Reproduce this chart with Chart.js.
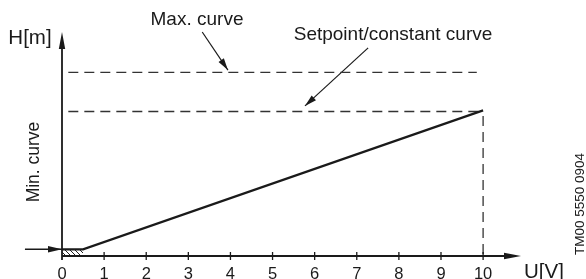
<!DOCTYPE html>
<html>
<head>
<meta charset="utf-8">
<script src="https://cdn.jsdelivr.net/npm/chart.js@4.4.1/dist/chart.umd.min.js"></script>
<style>
  html, body { margin: 0; padding: 0; background: #fff; }
  #wrap { width: 586px; height: 279px; position: relative; }
</style>
</head>
<body>
<div id="wrap"><canvas id="c" width="586" height="279"></canvas></div>
<script>
// ---- data (U in volts, H in relative head units) ----
const xTicks = [0, 1, 2, 3, 4, 5, 6, 7, 8, 9, 10];
const curveU = [0, 0.5, 10];
const curveH = [0.3, 0.3, 6.5];
const setpointU = [0.15, 10];
const setpointH = [6.45, 6.45];
const maxU = [0.15, 9.85];
const maxH = [8.2, 8.2];
const limitU = [10, 10];
const limitH = [6.25, 0];
const hatchU = [0, 0.5];
const hatchH = [0.3, 0.3];
const maxArrowU = [3.33, 3.94];
const maxArrowH = [10.0, 8.3];
const spArrowU = [7.27, 5.77];
const spArrowH = [9.29, 6.7];
const minArrowU = [-0.88, 0];
const minArrowH = [0.3, 0.3];
const labels = ['Max. curve', 'Setpoint/constant curve', 'Min. curve', 'H[m]', 'U[V]', 'TM00 5550 0904'];

const pts = (xs, ys) => xs.map((x, i) => ({ x: x, y: ys[i] }));

// hatch pattern
const pc = document.createElement('canvas');
pc.width = 5; pc.height = 5;
const pctx = pc.getContext('2d');
pctx.strokeStyle = '#222';
pctx.lineWidth = 1;
pctx.beginPath();
pctx.moveTo(-1, -1); pctx.lineTo(6, 6);
pctx.moveTo(-1, 4); pctx.lineTo(1, 6);
pctx.moveTo(4, -1); pctx.lineTo(6, 1);
pctx.stroke();
const hatch = document.getElementById('c').getContext('2d').createPattern(pc, 'repeat');

const FONT = '"Liberation Sans", Arial, Helvetica, sans-serif';
const INK = '#1a1a1a';

function arrowHead(ctx, x1, y1, x2, y2, len, half) {
  const a = Math.atan2(y2 - y1, x2 - x1);
  ctx.beginPath();
  ctx.moveTo(x2, y2);
  ctx.lineTo(x2 - len * Math.cos(a) + half * Math.sin(a), y2 - len * Math.sin(a) - half * Math.cos(a));
  ctx.lineTo(x2 - len * Math.cos(a) - half * Math.sin(a), y2 - len * Math.sin(a) + half * Math.cos(a));
  ctx.closePath();
  ctx.fill();
}

const decor = {
  id: 'decor',
  afterDatasetsDraw(chart) {
    const ctx = chart.ctx;
    const xs = chart.scales.x, ys = chart.scales.y;
    const X = v => xs.getPixelForValue(v), Y = v => ys.getPixelForValue(v);
    ctx.save();
    ctx.strokeStyle = INK; ctx.fillStyle = INK;
    ctx.lineWidth = 1.8;
    const x0 = X(0), y0 = Y(0);
    // axes
    ctx.beginPath();
    ctx.moveTo(x0, y0 + 4); ctx.lineTo(x0, Y(ys.max) + 10);
    ctx.moveTo(x0, y0); ctx.lineTo(X(xs.max) - 12, y0);
    ctx.stroke();
    arrowHead(ctx, x0, y0, x0, Y(ys.max), 17, 3.2);
    arrowHead(ctx, x0, y0, X(xs.max), y0, 17, 3.2);
    // ticks
    ctx.lineWidth = 1.3;
    ctx.beginPath();
    xTicks.forEach(t => { if (t > 0) { const px = X(t); ctx.moveTo(px, y0 - 4); ctx.lineTo(px, y0 + 4); } });
    ctx.stroke();
    // tick labels
    ctx.font = '16.5px ' + FONT;
    ctx.textAlign = 'center'; ctx.textBaseline = 'middle';
    xTicks.forEach(t => ctx.fillText(String(t), X(t), y0 + 18));
    // annotation arrowheads
    arrowHead(ctx, X(maxArrowU[0]), Y(maxArrowH[0]), X(maxArrowU[1]), Y(maxArrowH[1]), 12, 3.2);
    arrowHead(ctx, X(spArrowU[0]), Y(spArrowH[0]), X(spArrowU[1]), Y(spArrowH[1]), 12, 3.2);
    arrowHead(ctx, X(minArrowU[0]), Y(minArrowH[0]), X(minArrowU[1]), Y(minArrowH[1]), 14, 3.2);
    // texts
    ctx.font = '19px ' + FONT;
    ctx.fillText(labels[0], 197, 20);
    ctx.fillText(labels[1], 393, 35);
    ctx.font = '20.5px ' + FONT;
    ctx.fillText(labels[3], 30, 38);
    ctx.fillText(labels[4], 544, 272);
    ctx.save();
    ctx.font = '17.5px ' + FONT;
    ctx.translate(34, 162); ctx.rotate(-Math.PI / 2);
    ctx.fillText(labels[2], 0, 0);
    ctx.restore();
    ctx.save();
    ctx.font = '13.5px ' + FONT;
    ctx.translate(580, 204); ctx.rotate(-Math.PI / 2);
    ctx.fillText(labels[5], 0, 0);
    ctx.restore();
    ctx.restore();
  }
};

const solid = { showLine: true, pointRadius: 0, borderColor: INK, fill: false, tension: 0 };
const dashed = { showLine: true, pointRadius: 0, borderColor: '#333', borderWidth: 1.3, borderDash: [10, 6], fill: false };

new Chart(document.getElementById('c'), {
  type: 'scatter',
  data: {
    datasets: [
      Object.assign({}, solid, { data: pts(hatchU, hatchH), borderWidth: 0, fill: 'origin', backgroundColor: hatch }),
      Object.assign({}, solid, { data: pts(curveU, curveH), borderWidth: 2.2 }),
      Object.assign({}, dashed, { data: pts(setpointU, setpointH) }),
      Object.assign({}, dashed, { data: pts(maxU, maxH) }),
      Object.assign({}, dashed, { data: pts(limitU, limitH) }),
      Object.assign({}, solid, { data: pts(maxArrowU, maxArrowH), borderWidth: 1.2 }),
      Object.assign({}, solid, { data: pts(spArrowU, spArrowH), borderWidth: 1.2 }),
      Object.assign({}, solid, { data: pts(minArrowU, minArrowH), borderWidth: 1.5 })
    ]
  },
  options: {
    responsive: false,
    animation: false,
    devicePixelRatio: 1,
    layout: { padding: { left: 62, right: 65, top: 32, bottom: 23 } },
    scales: {
      x: { type: 'linear', min: 0, max: 10.9, display: false },
      y: { type: 'linear', min: 0, max: 10, display: false }
    },
    plugins: { legend: { display: false }, tooltip: { enabled: false } },
    clip: false
  },
  plugins: [decor]
});
</script>
</body>
</html>
